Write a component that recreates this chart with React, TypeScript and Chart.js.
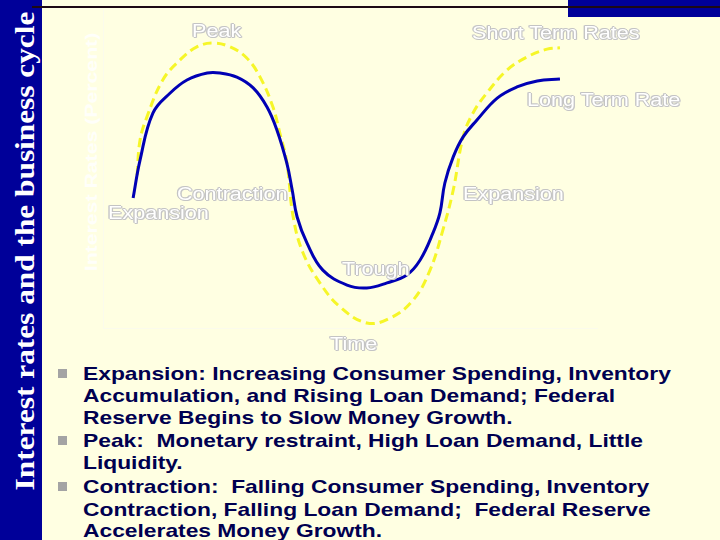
import React, { useEffect, useRef } from "react";
import { Chart, registerables } from "chart.js";

Chart.register(...registerables);

// Time axis (0-100) and interest-rate values (0-10)
const longTermTime = [6.1, 7.5, 10.1, 13.6, 17.0, 21.1, 23.7, 27.1, 30.4, 33.2, 35.2, 37.2, 38.3, 39.3, 41.3, 44.5, 49.4, 53.4, 57.5, 61.5, 64.2, 66.8, 68.2, 69.2, 70.9, 72.9, 75.7, 79.8, 83.8, 87.9, 92.5];
const longTermRate = [4.09, 5.28, 6.76, 7.39, 7.8, 8.02, 8.02, 7.89, 7.55, 6.95, 6.23, 5.19, 4.34, 3.49, 2.67, 1.82, 1.35, 1.26, 1.42, 1.67, 2.14, 2.99, 3.62, 4.56, 5.38, 6.01, 6.54, 7.23, 7.58, 7.77, 7.83];

const shortTermTime = [6.9, 7.5, 8.9, 12.1, 15.6, 19.0, 22.3, 25.7, 29.1, 31.8, 34.4, 35.8, 37.2, 38.5, 40.5, 43.9, 48.0, 53.4, 58.1, 62.8, 66.2, 68.8, 70.9, 72.9, 74.9, 77.7, 81.8, 85.8, 89.9, 92.5];
const shortTermRate = [4.81, 5.91, 6.64, 7.8, 8.43, 8.84, 8.96, 8.84, 8.49, 7.89, 6.95, 6.13, 5.22, 3.49, 2.36, 1.42, 0.66, 0.16, 0.31, 0.88, 1.82, 3.08, 4.34, 6.01, 6.76, 7.39, 8.11, 8.52, 8.77, 8.81];

const seriesNames = ["Long Term Rate", "Short Term Rates"];
const xAxisTitle = "Time";
const yAxisTitle = "Interest Rates (Percent)";
const slideTitle = "Interest rates and the business cycle";

const chartLabels = [
  { text: "Peak", left: 192, cy: 31 },
  { text: "Short Term Rates", left: 472, cy: 33 },
  { text: "Long Term Rate", left: 527, cy: 100 },
  { text: "Contraction", left: 177, cy: 194 },
  { text: "Expansion", left: 108, cy: 213 },
  { text: "Expansion", left: 463, cy: 194 },
  { text: "Trough", left: 342, cy: 269 },
  { text: xAxisTitle, left: 330, cy: 344 },
];

const bulletLines = [
  { text: "Expansion: Increasing Consumer Spending, Inventory", bullet: true },
  { text: "Accumulation, and Rising Loan Demand; Federal", bullet: false },
  { text: "Reserve Begins to Slow Money Growth.", bullet: false },
  { text: "Peak:  Monetary restraint, High Loan Demand, Little", bullet: true },
  { text: "Liquidity.", bullet: false },
  { text: "Contraction:  Falling Consumer Spending, Inventory", bullet: true },
  { text: "Contraction, Falling Loan Demand;  Federal Reserve", bullet: false },
  { text: "Accelerates Money Growth.", bullet: false },
];
const bulletCenters = [374, 396, 418, 441, 463, 487, 510, 531];

const outline =
  "1px 0 #c4c4c4, -1px 0 #c4c4c4, 0 1px #c4c4c4, 0 -1px #c4c4c4, 1px 1px #d0d0d0, -1px -1px #d0d0d0";

function CycleChart() {
  const ref = useRef<HTMLCanvasElement | null>(null);
  useEffect(() => {
    if (!ref.current) return;
    const chart = new Chart(ref.current, {
      type: "scatter",
      data: {
        datasets: [
          {
            label: seriesNames[0],
            data: longTermTime.map((t, i) => ({ x: t, y: longTermRate[i] })),
            showLine: true,
            borderColor: "#0000b4",
            borderWidth: 3,
            pointRadius: 0,
            tension: 0.4,
            fill: false,
          },
          {
            label: seriesNames[1],
            data: shortTermTime.map((t, i) => ({ x: t, y: shortTermRate[i] })),
            showLine: true,
            borderColor: "#f6f628",
            borderWidth: 3,
            borderDash: [9, 5],
            pointRadius: 0,
            tension: 0.4,
            fill: false,
          },
        ],
      },
      options: {
        animation: false,
        responsive: false,
        layout: { padding: 0 },
        plugins: { legend: { display: false }, tooltip: { enabled: false } },
        scales: {
          x: { type: "linear", min: 0, max: 100, display: false },
          y: { type: "linear", min: 0, max: 10, display: false },
        },
      },
    });
    return () => chart.destroy();
  }, []);
  return (
    <canvas
      ref={ref}
      width={494}
      height={318}
      style={{ position: "absolute", left: 103, top: 10, width: 494, height: 318 }}
    />
  );
}

export default function App() {
  return (
    <div
      style={{
        position: "fixed",
        left: 0,
        top: 0,
        width: 720,
        height: 540,
        background: "#ffffe2",
        overflow: "hidden",
        fontFamily: "'Liberation Sans', Arial, sans-serif",
      }}
    >
      {/* left title band */}
      <div style={{ position: "absolute", left: 0, top: 0, width: 42, height: 540, background: "#000099" }} />
      {/* top right band */}
      <div style={{ position: "absolute", left: 568, top: 0, width: 152, height: 17, background: "#000099" }} />
      {/* top rule */}
      <div style={{ position: "absolute", left: 32, top: 6, width: 688, height: 2, background: "#1e0a14" }} />
      {/* slide title */}
      <div
        style={{
          position: "absolute",
          left: 25 - 260,
          top: 251 - 18,
          width: 520,
          height: 36,
          lineHeight: "36px",
          textAlign: "center",
          color: "#ffffff",
          fontFamily: "'Liberation Serif', 'Times New Roman', serif",
          fontWeight: "bold",
          fontSize: 27,
          whiteSpace: "nowrap",
          transform: "rotate(-90deg) scaleX(1.16)",
        }}
      >
        {slideTitle}
      </div>
      {/* faint plot frame */}
      <div
        style={{
          position: "absolute",
          left: 103,
          top: 10,
          width: 494,
          height: 318,
          borderLeft: "1px solid #fbfbec",
          borderBottom: "1px solid #fbfbec",
        }}
      />
      <CycleChart />
      {/* y axis title */}
      <div
        style={{
          position: "absolute",
          left: 92 - 120,
          top: 152 - 10,
          width: 240,
          height: 20,
          lineHeight: "20px",
          textAlign: "center",
          color: "#fffffa",
          fontWeight: "bold",
          fontSize: 17,
          whiteSpace: "nowrap",
          transform: "rotate(-90deg) scaleX(1.25)",
        }}
      >
        {yAxisTitle}
      </div>
      {chartLabels.map((l, i) => (
        <div
          key={i}
          style={{
            position: "absolute",
            left: l.left,
            top: l.cy - 11,
            height: 22,
            lineHeight: "22px",
            fontSize: 18,
            color: "#ffffff",
            whiteSpace: "nowrap",
            textShadow: outline,
            transform: "scaleX(1.2)",
            transformOrigin: "left center",
          }}
        >
          {l.text}
        </div>
      ))}
      {bulletLines.map((b, i) => (
        <React.Fragment key={i}>
          {b.bullet && (
            <div
              style={{
                position: "absolute",
                left: 58,
                top: bulletCenters[i] - 5,
                width: 9,
                height: 9,
                background: "#a4a4a4",
              }}
            />
          )}
          <div
            style={{
              position: "absolute",
              left: 83,
              top: bulletCenters[i] - 12,
              height: 24,
              lineHeight: "24px",
              fontSize: 19,
              fontWeight: "bold",
              color: "#000050",
              whiteSpace: "pre",
              transform: "scaleX(1.2)",
              transformOrigin: "left center",
            }}
          >
            {b.text}
          </div>
        </React.Fragment>
      ))}
    </div>
  );
}
